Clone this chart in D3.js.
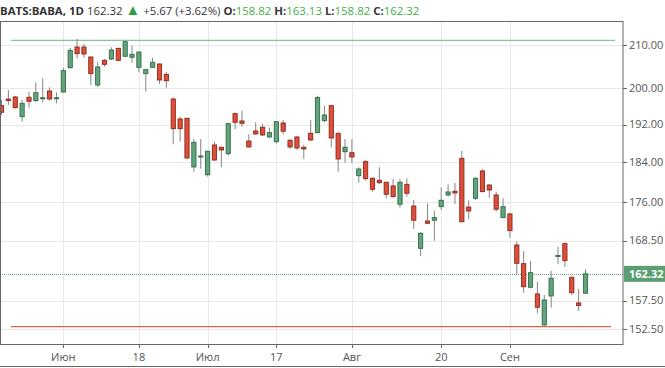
<!DOCTYPE html>
<html>
<head>
<meta charset="utf-8">
<script src="https://cdn.jsdelivr.net/npm/d3@7"></script>
<style>
  body { margin: 0; background: #fff; }
  svg { display: block; font-family: "Open Sans", "Liberation Sans", sans-serif; }
</style>
</head>
<body>
<svg width="665" height="368"></svg>
<script>
const width = 665, height = 368;

// daily candles BATS:BABA, 18 May .. 19 Sep
const opens = [196.14,197.60,198.07,193.73,198.00,197.25,197.75,199.41,197.75,199.18,
  204.70,209.53,209.53,207.18,200.76,206.41,206.71,209.22,207.35,207.11,
  204.79,203.33,204.79,205.56,203.19,197.62,193.23,193.38,183.07,185.13,
  181.48,187.65,187.17,185.82,194.38,192.79,188.50,190.64,191.43,189.35,
  188.35,192.36,188.65,189.35,187.17,190.14,190.27,192.86,196.14,190.14,
  186.24,186.03,181.27,184.16,180.75,180.35,179.94,179.20,175.54,179.53,
  175.20,167.05,172.27,172.41,175.07,177.39,178.13,184.86,175.00,176.73,
  182.25,179.39,177.39,172.92,173.64,167.68,164.19,159.89,158.69,153.25,
  158.33,165.55,167.93,161.70,157.09,158.82];
const highs = [197.40,199.63,198.30,197.40,199.25,201.37,202.28,200.24,199.11,204.70,
  209.36,211.42,210.24,207.30,205.95,206.70,209.46,209.36,211.02,209.84,
  208.42,204.40,207.01,205.70,203.65,198.00,193.73,193.44,188.92,188.92,
  186.45,188.35,187.29,192.42,194.60,195.04,189.93,192.51,192.14,191.34,
  192.79,193.01,188.92,189.57,187.72,193.01,198.35,196.14,196.29,190.27,
  188.92,188.92,183.00,184.51,180.96,183.00,180.06,180.61,180.61,180.75,
  176.39,170.10,175.73,174.28,178.85,179.53,179.80,186.39,176.33,180.96,
  182.60,179.60,178.05,176.73,173.77,168.30,166.55,164.69,160.90,158.51,
  162.85,167.36,168.19,161.82,159.58,163.13];
const lows = [194.10,196.29,195.50,192.64,195.70,197.02,196.89,197.25,196.67,199.11,
  204.56,206.87,207.01,200.76,200.31,204.94,206.48,206.25,207.25,205.86,
  203.65,199.25,204.63,200.99,200.15,187.80,188.35,184.82,182.10,182.72,
  181.07,184.30,183.00,185.49,191.00,191.55,187.17,189.78,189.57,189.14,
  187.93,189.93,186.81,186.66,184.72,188.50,190.14,192.51,187.17,182.10,
  183.95,183.83,179.86,180.27,178.05,179.53,176.73,176.85,174.87,177.05,
  170.73,165.62,171.63,168.50,174.42,177.05,175.60,172.01,172.61,176.39,
  177.93,176.85,174.09,172.80,169.07,162.30,158.92,159.70,155.28,153.08,
  156.27,164.08,163.58,158.51,155.68,158.82];
const closes = [194.70,197.25,195.70,196.67,197.11,199.02,197.90,197.62,197.90,204.02,
  208.75,207.96,207.89,203.33,204.87,205.49,208.82,206.41,210.78,207.81,
  208.35,204.25,205.95,201.89,201.73,191.13,191.13,184.92,188.22,185.34,
  186.33,184.51,186.60,192.20,192.51,192.29,187.23,190.00,189.78,190.27,
  192.64,190.58,187.23,187.02,186.81,188.71,197.92,194.10,189.14,184.72,
  187.17,185.13,182.65,180.67,178.53,179.86,177.53,177.05,179.94,177.73,
  172.41,169.90,171.83,172.92,176.33,177.99,177.79,172.13,174.22,180.75,
  178.05,178.39,174.56,175.07,170.41,164.26,159.99,162.54,156.34,157.62,
  161.52,165.70,164.75,158.92,156.65,162.32];

const yTicks = [210, 200, 192, 184, 176, 168.5, 157.5, 152.5];
const xTickIdx = [9, 20, 30, 40, 51, 64, 74];
const xTickLabels = ["Июн", "18", "Июл", "17", "Авг", "20", "Сен"];

// horizontal levels
const levelHigh = 211.1, levelLow = 152.96;
const lastClose = 162.32;

const plot = {left: 0, right: 623, top: 21, bottom: 344};

const svg = d3.select("svg");

const x = d3.scaleLinear().domain([0, 85]).range([1.5, 585.5]);
const y = d3.scaleLog().domain([152.5, 210]).range([329.3, 45]);

// Grid
svg.append("g").selectAll("line").data(yTicks).enter().append("line")
  .attr("x1", plot.left).attr("x2", plot.right)
  .attr("y1", d => Math.round(y(d)) + 0.5).attr("y2", d => Math.round(y(d)) + 0.5)
  .attr("stroke", "#e8e8e8");
svg.append("g").selectAll("line").data(xTickIdx).enter().append("line")
  .attr("x1", d => Math.round(x(d)) + 0.5).attr("x2", d => Math.round(x(d)) + 0.5)
  .attr("y1", plot.top).attr("y2", plot.bottom)
  .attr("stroke", "#e8e8e8");

// level lines
svg.append("line").attr("x1", 11).attr("x2", 615)
  .attr("y1", y(levelHigh)).attr("y2", y(levelHigh))
  .attr("stroke", "#86c49b").attr("stroke-width", 1.2);
svg.append("line").attr("x1", 11).attr("x2", 611)
  .attr("y1", y(levelLow)).attr("y2", y(levelLow))
  .attr("stroke", "#e2614d").attr("stroke-width", 1.2);

// last price dotted line
svg.append("line").attr("x1", plot.left).attr("x2", plot.right)
  .attr("y1", Math.round(y(lastClose)) + 0.5).attr("y2", Math.round(y(lastClose)) + 0.5)
  .attr("stroke", "#5fa57c").attr("stroke-dasharray", "1,1");

// Candles
const idx = d3.range(opens.length);
const candles = svg.append("g");
candles.selectAll("line").data(idx).enter().append("line")
  .attr("x1", i => x(i)).attr("x2", i => x(i))
  .attr("y1", i => y(highs[i])).attr("y2", i => y(lows[i]))
  .attr("stroke", "#858585").attr("stroke-width", 1);
candles.selectAll("rect").data(idx).enter().append("rect")
  .attr("x", i => x(i) - 2.1)
  .attr("width", 4.2)
  .attr("y", i => y(Math.max(opens[i], closes[i])))
  .attr("height", i => Math.max(1, y(Math.min(opens[i], closes[i])) - y(Math.max(opens[i], closes[i]))))
  .attr("fill", i => closes[i] >= opens[i] ? "#62a57d" : "#dc4f3a")
  .attr("stroke", i => closes[i] >= opens[i] ? "#2f6b45" : "#8e2618")
  .attr("stroke-width", 0.9);

// Frame
svg.append("rect").attr("x", 0.5).attr("y", plot.top + 0.5)
  .attr("width", plot.right - 0.5).attr("height", plot.bottom - plot.top)
  .attr("fill", "none").attr("stroke", "#666");
svg.append("line").attr("x1", 0).attr("x2", width).attr("y1", 366.5).attr("y2", 366.5)
  .attr("stroke", "#666");

// Y axis (right)
const yAxis = svg.append("g");
yAxis.selectAll("line").data(yTicks).enter().append("line")
  .attr("x1", plot.right).attr("x2", plot.right + 4)
  .attr("y1", d => Math.round(y(d)) + 0.5).attr("y2", d => Math.round(y(d)) + 0.5)
  .attr("stroke", "#666");
yAxis.selectAll("text").data(yTicks).enter().append("text")
  .attr("x", plot.right + 6).attr("y", d => y(d)).attr("dy", "0.35em")
  .attr("font-size", "11px").attr("fill", "#555")
  .text(d => d.toFixed(2));

// last price label
svg.append("rect").attr("x", plot.right + 1).attr("y", y(lastClose) - 8)
  .attr("width", width - plot.right - 1).attr("height", 16).attr("fill", "#5a9e72");
svg.append("text").attr("x", plot.right + 6).attr("y", y(lastClose)).attr("dy", "0.35em")
  .attr("font-size", "11px").attr("font-weight", "bold").attr("fill", "#fff")
  .text(lastClose.toFixed(2));

// X axis
const xAxis = svg.append("g");
xAxis.selectAll("line").data(xTickIdx).enter().append("line")
  .attr("x1", d => Math.round(x(d)) + 0.5).attr("x2", d => Math.round(x(d)) + 0.5)
  .attr("y1", plot.bottom).attr("y2", plot.bottom + 4)
  .attr("stroke", "#666");
xAxis.selectAll("text").data(xTickIdx).enter().append("text")
  .attr("x", d => x(d)).attr("y", 357).attr("dy", "0.35em")
  .attr("text-anchor", "middle").attr("font-size", "11px").attr("fill", "#555")
  .text((d, i) => xTickLabels[i]);

// Header (scaled so it ends at x=420 like the original)
const head = svg.append("text").attr("x", 0).attr("y", 14.5).attr("font-size", "12px").attr("fill", "#333");
head.append("tspan").attr("font-weight", "bold").text("BATS:BABA, 1D  ");
head.append("tspan").text(" " + closes[85].toFixed(2) + " ");
head.append("tspan").attr("fill", "#2e9e3e").attr("font-size", "1.3em").text("▲");
head.append("tspan").text(" +5.67 (+3.62%) ");
head.append("tspan").attr("font-weight", "bold").text("O:");
head.append("tspan").attr("fill", "#43b049").text(opens[85].toFixed(2) + " ");
head.append("tspan").attr("font-weight", "bold").text("H:");
head.append("tspan").attr("fill", "#43b049").text(highs[85].toFixed(2) + " ");
head.append("tspan").attr("font-weight", "bold").text("L:");
head.append("tspan").attr("fill", "#43b049").text(lows[85].toFixed(2) + " ");
head.append("tspan").attr("font-weight", "bold").text("C:");
head.append("tspan").attr("fill", "#43b049").text(closes[85].toFixed(2));
const headLen = head.node().getComputedTextLength();
head.attr("font-size", (12 * 420 / headLen) + "px");
</script>
</body>
</html>
